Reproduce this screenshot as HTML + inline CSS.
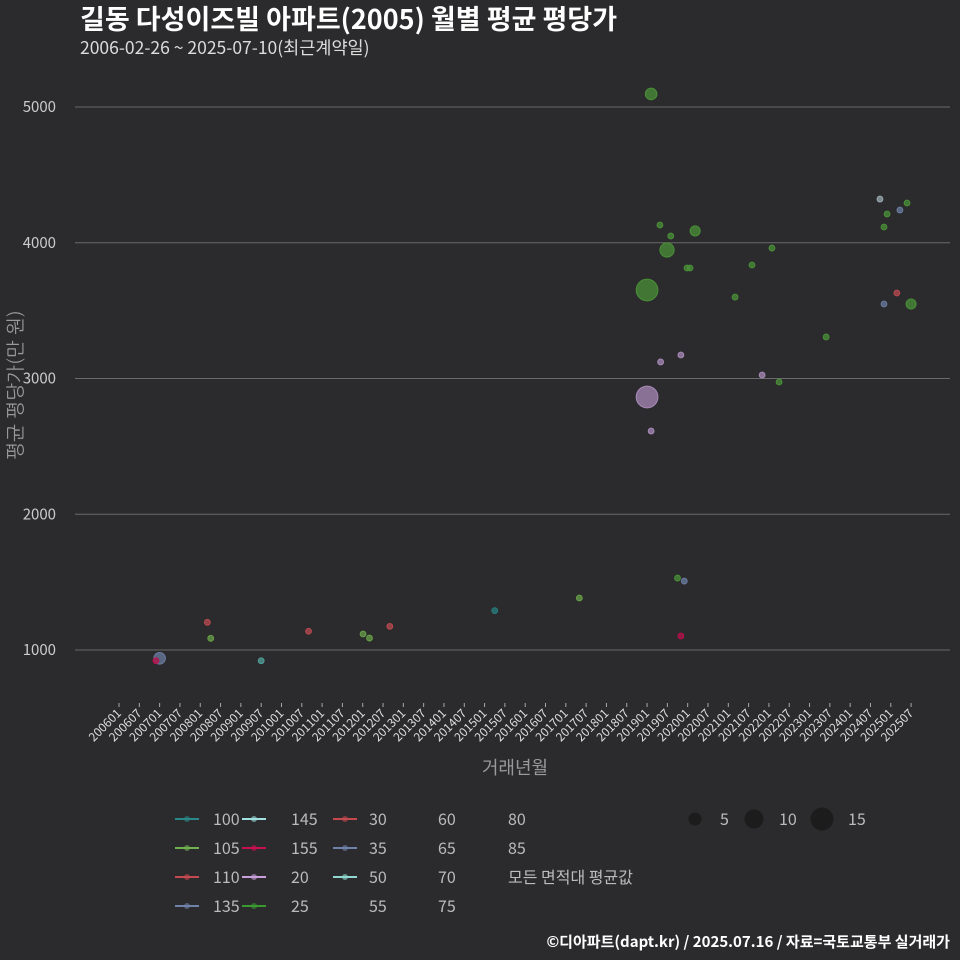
<!DOCTYPE html>
<html><head><meta charset="utf-8"><style>
body{margin:0;background:#2b2a2c;}
svg{display:block;font-family:"Noto Sans CJK KR","Liberation Sans",sans-serif;}
#ytitle{position:absolute;left:16px;top:385px;transform:translate(-50%,-50%) rotate(-90deg);font:19px "NanumGothic","Noto Sans CJK KR",sans-serif;color:#999;white-space:nowrap;}
</style></head><body style="position:relative">
<svg id="c" width="960" height="960">
<rect width="960" height="960" fill="#2b2a2c"/>
<text x="80" y="29" font-size="27" font-weight="bold" fill="#fff">길동 다성이즈빌 아파트(2005) 월별 평균 평당가</text>
<text x="80" y="54" font-size="17.5" fill="#ddd">2006-02-26 ~ 2025-07-10(최근계약일)</text>
<g id="grid"></g><g id="xax"></g><g id="pts"></g>
<text x="515" y="774" font-size="18" fill="#999" text-anchor="middle">거래년월</text>
<g id="legend"></g>
<text x="950" y="947" font-size="15" font-weight="bold" fill="#fff" text-anchor="end">©디아파트(dapt.kr) / 2025.07.16 / 자료=국토교통부 실거래가</text>
</svg>
<div id="ytitle">평균 평당가(만 원)</div>
<script>
const yTicks=[1000,2000,3000,4000,5000];
const months=[157.2,159.8,163,161.9,170.2,167.8,168.7,156,182,187,192.9,195,208.9,224.8,232.8,226.9,230.7,226,229.8,226,234,160,166,190,156,157.2,165,167,166,12,10.9,26.1,27.1,42,56,72.1,74,80,111,136];
const values=[5096,4131,4050,3947,4087,3814,3814,3652,3600,3836,3961,2974,3306,4322,4293,4212,4241,4116,3630,3549,3549,3122,3173,3026,2864,2613,1530,1508,1103,939,921,1204,1086,921,1138,1118,1088,1174,1290,1383];
const counts=[4,1,1,6,3,1,1,14,1,1,1,1,1,1,1,1,1,1,1,1,3,1,1,1,14,1,1,1,1,4,1,1,1,1,1,1,1,1,1,1];
const groups=["25","25","25","25","25","25","25","25","25","25","25","25","25","145","25","25","35","25","110","35","25","20","20","20","20","20","25","35","155","35","155","110","105","50","110","105","105","110","100","105"];
const colorOf={"25":"#4a9038","20":"#a88ab8","35":"#6a7ca0","110":"#b84a50","155":"#b8104a","145":"#98aab0","105":"#68a048","50":"#50a098","100":"#287e7e"};
const X=m=>119+m*3.385, Y=v=>650-(v-1000)*0.13575;
const ns="http://www.w3.org/2000/svg";
function mk(t,a,p){const e=document.createElementNS(ns,t);for(const k in a)e.setAttribute(k,a[k]);p.appendChild(e);return e;}
const grid=document.getElementById('grid');
yTicks.forEach(v=>{
 const l=mk('line',{x1:75,x2:950,y1:Y(v),y2:Y(v),stroke:'#6a6a6a','stroke-width':1},grid);
 
 
 const t=mk('text',{x:56,y:Y(v)+5,'font-size':15,fill:'#ccc','text-anchor':'end'},grid);
 t.textContent=v;
 
 
});
const xax=document.getElementById('xax');
for(let i=0;i<40;i++){
 const yr=2006+Math.floor(i/2), mo=i%2?'07':'01';
 const m=i*6, x=X(m);
 const tk=mk('line',{x1:x,x2:x,y1:703,y2:707,stroke:'#aaa'},xax);
 
 
 const t=mk('text',{transform:`translate(${x+3},${714}) rotate(-45)`,'font-size':12,fill:'#ddd','text-anchor':'end'},xax);
 t.textContent=yr+mo;
 
 
}
const pts=document.getElementById('pts');
months.forEach((m,i)=>{
 const c=colorOf[groups[i]];
 const p=mk('circle',{cx:X(m),cy:Y(values[i]),r:2.9*Math.sqrt(counts[i]),fill:c,'fill-opacity':0.75,stroke:c,'stroke-width':1},pts);
 
 
});
const lg=document.getElementById('legend');
const legCols=[[["100","#2a8888"],["105","#70b050"],["110","#c54a50"],["135","#6f83aa"]],
[["145","#a0e0e0"],["155","#c8104e"],["20","#c9a0dc"],["25","#3a9a30"]],
[["30","#c54a50"],["35","#6f83aa"],["50","#90d8d0"],["55",null]],
[["60",null],["65",null],["70",null],["75",null]],
[["80",null],["85",null],["모든 면적대 평균값",null]]];
const colX=[175,242,333,404,474];
const textX=[213,291,369,438,508];
legCols.forEach((col,ci)=>col.forEach((it,ri)=>{
 const y=819+ri*29, x=colX[ci];
 if(it[1]){
  const l=mk('line',{x1:x,x2:x+24,y1:y,y2:y,stroke:it[1],'stroke-width':2},lg);
  
  
  const c=mk('circle',{cx:x+12,cy:y,r:3,fill:it[1],'fill-opacity':0.6},lg);
  
  
 }
 const t=mk('text',{x:textX[ci],y:y+6,'font-size':16,fill:'#bbb'},lg);
 t.textContent=it[0];
 
 
}));
[[695,6.5,"5",720],[754,9.5,"10",779],[822,11.5,"15",848]].forEach(s=>{
 const c=mk('circle',{cx:s[0],cy:819,r:s[1],fill:'#1c1c1c'},lg);
 
 
 const t=mk('text',{x:s[3],y:825,'font-size':16,fill:'#bbb'},lg);
 t.textContent=s[2];
 
 
});
</script>
</body></html>
